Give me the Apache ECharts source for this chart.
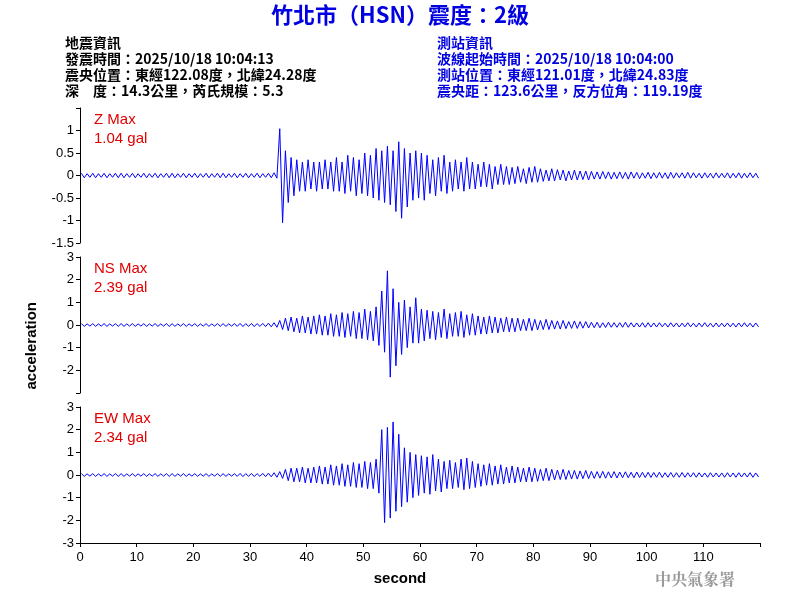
<!DOCTYPE html>
<html><head><meta charset="utf-8">
<script src="https://cdn.jsdelivr.net/npm/echarts@6/dist/echarts.min.js"></script>
<style>body{margin:0;background:#fff}#main{width:800px;height:600px}</style>
</head><body><div id="main"></div>
<script>
// per-second envelope peaks (gal), seconds 0..119
const zHi = [0.05,0.04,0.05,0.04,0.05,0.04,0.05,0.05,0.04,0.05,0.04,0.05,0.04,0.05,0.04,0.05,0.05,0.04,0.05,0.04,0.05,0.04,0.05,0.04,0.05,0.05,0.04,0.05,0.04,0.05,0.04,0.05,0.04,0.05,0.06,
  1.04,0.55,0.4,0.35,0.3,0.35,0.3,0.3,0.35,0.3,0.4,0.3,0.45,0.4,0.35,0.5,0.45,0.6,0.55,0.65,0.55,0.75,0.6,0.5,0.55,
  0.5,0.45,0.35,0.4,0.45,0.3,0.35,0.3,0.4,0.3,0.25,0.3,0.25,0.2,0.25,0.2,0.18,0.2,0.15,0.18,
  0.2,0.15,0.12,0.15,0.13,0.12,0.1,0.12,0.1,0.1,0.09,0.08,0.09,0.08,0.07,0.08,0.07,0.08,0.07,0.06,
  0.07,0.06,0.07,0.06,0.07,0.06,0.06,0.07,0.06,0.05,0.06,0.05,0.06,0.05,0.06,0.05,0.06,0.05,0.06,0.05]
const zLo = [-0.05,-0.04,-0.05,-0.04,-0.05,-0.04,-0.05,-0.05,-0.04,-0.05,-0.04,-0.05,-0.04,-0.05,-0.04,-0.05,-0.05,-0.04,-0.05,-0.04,-0.05,-0.04,-0.05,-0.04,-0.05,-0.05,-0.04,-0.05,-0.04,-0.05,-0.04,-0.05,-0.04,-0.05,-0.06,
  -1.05,-0.6,-0.45,-0.35,-0.35,-0.3,-0.35,-0.3,-0.3,-0.35,-0.35,-0.4,-0.35,-0.45,-0.4,-0.45,-0.5,-0.55,-0.6,-0.65,-0.8,-0.95,-0.7,-0.55,-0.5,
  -0.55,-0.4,-0.45,-0.35,-0.4,-0.35,-0.3,-0.35,-0.3,-0.3,-0.25,-0.25,-0.3,-0.2,-0.2,-0.2,-0.18,-0.15,-0.18,-0.15,
  -0.15,-0.13,-0.12,-0.12,-0.1,-0.12,-0.1,-0.1,-0.09,-0.1,-0.08,-0.08,-0.07,-0.08,-0.07,-0.07,-0.08,-0.06,-0.07,-0.06,
  -0.07,-0.06,-0.06,-0.07,-0.06,-0.05,-0.06,-0.06,-0.05,-0.06,-0.05,-0.06,-0.05,-0.05,-0.06,-0.05,-0.06,-0.05,-0.05,-0.06]
const nsHi = [0.06,0.05,0.06,0.05,0.06,0.05,0.06,0.06,0.05,0.06,0.05,0.06,0.05,0.06,0.05,0.06,0.06,0.05,0.06,0.05,0.06,0.05,0.06,0.05,0.06,0.06,0.05,0.06,0.07,0.06,0.07,0.06,0.07,0.08,0.1,
  0.2,0.3,0.35,0.3,0.4,0.35,0.4,0.45,0.4,0.5,0.45,0.55,0.5,0.6,0.55,0.7,0.6,0.8,1.5,2.39,1.6,1.0,1.1,0.8,1.2,
  0.7,0.65,0.6,0.55,0.7,0.5,0.55,0.6,0.45,0.5,0.4,0.35,0.4,0.35,0.3,0.35,0.3,0.3,0.25,0.3,
  0.25,0.2,0.25,0.2,0.18,0.2,0.15,0.18,0.15,0.15,0.12,0.12,0.1,0.12,0.1,0.1,0.12,0.1,0.09,0.1,
  0.1,0.09,0.1,0.08,0.1,0.09,0.08,0.1,0.08,0.09,0.1,0.08,0.09,0.08,0.09,0.08,0.09,0.1,0.08,0.09]
const nsLo = [-0.06,-0.05,-0.06,-0.05,-0.06,-0.05,-0.06,-0.06,-0.05,-0.06,-0.05,-0.06,-0.05,-0.06,-0.05,-0.06,-0.06,-0.05,-0.06,-0.05,-0.06,-0.05,-0.06,-0.05,-0.06,-0.06,-0.05,-0.06,-0.07,-0.06,-0.07,-0.06,-0.07,-0.08,-0.1,
  -0.2,-0.25,-0.3,-0.35,-0.35,-0.4,-0.4,-0.45,-0.45,-0.5,-0.5,-0.55,-0.5,-0.6,-0.6,-0.65,-0.7,-0.9,-1.2,-2.3,-1.8,-1.3,-1.0,-0.8,-0.8,
  -0.7,-0.6,-0.65,-0.55,-0.6,-0.5,-0.5,-0.55,-0.45,-0.45,-0.4,-0.4,-0.35,-0.35,-0.3,-0.3,-0.3,-0.25,-0.25,-0.25,
  -0.22,-0.2,-0.2,-0.18,-0.18,-0.16,-0.15,-0.15,-0.14,-0.13,-0.12,-0.12,-0.11,-0.1,-0.1,-0.1,-0.1,-0.09,-0.09,-0.1,
  -0.09,-0.09,-0.08,-0.09,-0.08,-0.09,-0.08,-0.08,-0.09,-0.08,-0.08,-0.09,-0.08,-0.08,-0.08,-0.09,-0.08,-0.08,-0.09,-0.08]
const ewHi = [0.06,0.05,0.06,0.05,0.06,0.05,0.06,0.06,0.05,0.06,0.05,0.06,0.05,0.06,0.05,0.06,0.06,0.05,0.06,0.05,0.06,0.05,0.06,0.05,0.06,0.06,0.05,0.06,0.07,0.06,0.07,0.06,0.07,0.08,0.1,
  0.15,0.25,0.3,0.3,0.35,0.3,0.35,0.4,0.35,0.45,0.4,0.5,0.45,0.55,0.5,0.6,0.55,0.7,2.0,2.1,2.34,1.8,1.2,1.0,0.9,
  0.85,0.8,0.9,0.7,0.6,0.65,0.55,0.7,0.75,0.6,0.5,0.45,0.5,0.4,0.45,0.35,0.4,0.35,0.3,0.35,
  0.3,0.25,0.3,0.25,0.22,0.25,0.2,0.2,0.18,0.2,0.16,0.15,0.16,0.14,0.15,0.13,0.14,0.12,0.13,0.12,
  0.12,0.11,0.12,0.1,0.11,0.1,0.11,0.1,0.1,0.1,0.09,0.1,0.09,0.09,0.1,0.09,0.1,0.09,0.1,0.09]
const ewLo = [-0.06,-0.05,-0.06,-0.05,-0.06,-0.05,-0.06,-0.06,-0.05,-0.06,-0.05,-0.06,-0.05,-0.06,-0.05,-0.06,-0.06,-0.05,-0.06,-0.05,-0.06,-0.05,-0.06,-0.05,-0.06,-0.06,-0.05,-0.06,-0.07,-0.06,-0.07,-0.06,-0.07,-0.08,-0.1,
  -0.15,-0.25,-0.3,-0.3,-0.35,-0.35,-0.35,-0.4,-0.4,-0.45,-0.45,-0.5,-0.5,-0.55,-0.55,-0.6,-0.6,-0.8,-2.1,-1.9,-1.6,-1.4,-1.2,-1.0,-0.9,
  -0.8,-0.85,-0.7,-0.75,-0.6,-0.6,-0.55,-0.65,-0.6,-0.55,-0.5,-0.45,-0.45,-0.4,-0.4,-0.35,-0.35,-0.3,-0.3,-0.3,
  -0.28,-0.25,-0.25,-0.22,-0.2,-0.2,-0.18,-0.18,-0.16,-0.16,-0.15,-0.14,-0.14,-0.13,-0.13,-0.12,-0.12,-0.12,-0.11,-0.11,
  -0.11,-0.1,-0.11,-0.1,-0.1,-0.1,-0.1,-0.09,-0.1,-0.09,-0.1,-0.09,-0.09,-0.1,-0.09,-0.1,-0.09,-0.09,-0.1,-0.09]
const maxLabels = [['Z Max', '1.04 gal'], ['NS Max', '2.39 gal'], ['EW Max', '2.34 gal']]
const xTicks = [0, 10, 20, 30, 40, 50, 60, 70, 80, 90, 100, 110]

function trace(hi, lo) {
    let out = []
    for (let i = 0; i < hi.length; i++) {
        out.push([i + 0.25, hi[i]])
        out.push([i + 0.75, lo[i]])
    }
    return out
}

const font = 'Liberation Sans, Arial, sans-serif'
const grids = [
    {left: 80, right: 40, top: 108, height: 135},
    {left: 80, right: 40, top: 257, height: 136},
    {left: 80, right: 40, top: 407, height: 136}
]
const axLabel = {color: '#000', fontSize: 13, fontFamily: font}
function yAx(i, lim, step, hide) {
    return {
        gridIndex: i, type: 'value', min: -lim, max: lim, interval: step,
        axisLine: {show: true, lineStyle: {color: '#000'}},
        axisTick: {show: true, length: 4, lineStyle: {color: '#000'}},
        splitLine: {show: false},
        axisLabel: Object.assign({formatter: v => hide.includes(v) ? '' : String(v), margin: 6}, axLabel)
    }
}
function xAx(i, show) {
    return {
        gridIndex: i, type: 'value', min: 0, max: 120, interval: 10, show: show,
        axisLine: {show: true, onZero: false, lineStyle: {color: '#000'}},
        axisTick: {show: true, length: 4, lineStyle: {color: '#000'}},
        splitLine: {show: false},
        axisLabel: Object.assign({formatter: v => xTicks.includes(v) ? String(v) : ''}, axLabel)
    }
}
const traces = [trace(zHi, zLo), trace(nsHi, nsLo), trace(ewHi, ewLo)]

const hdr = (x, y, text, color) => ({type: 'text', left: x, top: y,
    style: {text: text, fill: color, font: 'bold 14px "Noto Sans CJK TC", sans-serif', lineHeight: 16}})
const tops = [110, 259, 409]
let graphic = [
    {type: 'text', left: 'center', top: 4, style: {text: '竹北市（HSN）震度：2級', fill: '#0000e0',
        font: 'bold 22px "Noto Sans CJK TC", sans-serif'}},
    hdr(65, 35, '地震資訊\n發震時間：2025/10/18 10:04:13\n震央位置：東經122.08度，北緯24.28度\n深　度：14.3公里，芮氏規模：5.3', '#000'),
    hdr(437, 35, '測站資訊\n波線起始時間：2025/10/18 10:04:00\n測站位置：東經121.01度，北緯24.83度\n震央距：123.6公里，反方位角：119.19度', '#0000e0'),
    {type: 'text', left: 24, top: 302, rotation: Math.PI / 2, originX: 0, originY: 0,
        style: {text: 'acceleration', fill: '#000', font: 'bold 15px ' + font, align: 'center', verticalAlign: 'middle', x: 0, y: 0}},
    {type: 'text', left: 'center', top: 571, style: {text: 'second', fill: '#000', font: 'bold 15px ' + font}},
    {type: 'text', left: 655, top: 571, style: {text: '中央氣象署', fill: '#999', font: 'bold 16px "Noto Serif CJK TC", "Noto Sans CJK TC", serif'}}
]
maxLabels.forEach((m, i) => graphic.push({type: 'text', left: 94, top: tops[i],
    style: {text: m[0] + '\n' + m[1], fill: '#e00000', font: '15px ' + font, lineHeight: 19}}))

const chart = echarts.init(document.getElementById('main'))
chart.setOption({
    animation: false,
    backgroundColor: '#fff',
    grid: grids,
    xAxis: [xAx(0, false), xAx(1, false), xAx(2, true)],
    yAxis: [yAx(0, 1.5, 0.5, [1.5]), yAx(1, 3, 1, [-3]), yAx(2, 3, 1, [])],
    graphic: graphic,
    series: traces.map((d, i) => ({
        type: 'line', xAxisIndex: i, yAxisIndex: i, data: d, showSymbol: false,
        lineStyle: {color: '#0000ff', width: 1}
    }))
})
</script></body></html>
